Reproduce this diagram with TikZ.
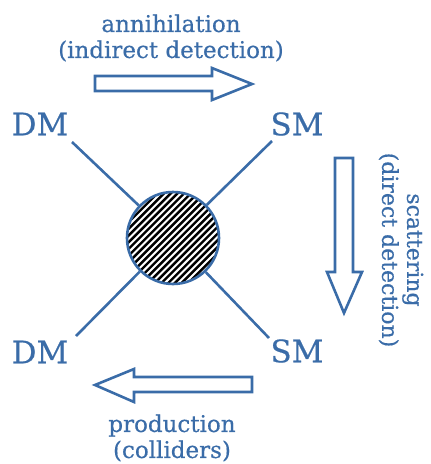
\documentclass[tikz,border=0pt]{standalone}
\usepackage{fontspec}
\setmainfont[FakeBold=0.5]{DejaVu Serif}
\definecolor{dmblue}{RGB}{58,108,168}
\begin{document}
\begin{tikzpicture}[x=1pt, y=-1pt,
    particle/.style={text=dmblue, inner sep=0pt, font=\fontsize{31}{34}\selectfont},
    process/.style={text=dmblue, align=center, inner sep=0pt, font=\fontsize{23}{26}\selectfont},
    leg/.style={draw=dmblue, line width=2.6pt},
    blockarrow/.style={draw=dmblue, line width=2.6pt, line join=miter}]
\useasboundingbox (0,0) rectangle (431,464);

\coordinate (vertex) at (173,238);
\begin{scope}
\clip (vertex) circle (46);
\foreach \k in {-20,...,20}
{
    \draw[line width=2.4pt] (173+\k*6.7-70,308) -- ++(140,-140);
}
\end{scope}
\node[circle, draw=dmblue, line width=2.6pt, minimum size=92pt, inner sep=0pt] (blob) at (vertex) {};

\foreach \n/\x/\y in {tl/72/142, tr/272/141, bl/76/336, br/269/338}
{
    \coordinate (\n) at (\x,\y);
    \draw[leg] (\n) -- (blob);
}

\node[particle] (dmtop) at (40,124) {DM};
\node[particle] (smtop) at (297,124) {SM};
\node[particle] (dmbot) at (40,352) {DM};
\node[particle] (smbot) at (297,351) {SM};

\node[process] (annih) at (171,38) {annihilation\\(indirect detection)};
\node[process] (prod) at (172,438) {production\\(colliders)};
\node[process, rotate=-90, font=\fontsize{22}{25}\selectfont] (scat) at (401,250) {scattering\\(direct detection)};

\draw[blockarrow] (95,76) -- (212,76) -- (212,68) -- (252,84) -- (212,100) -- (212,91) -- (95,91) -- cycle;
\draw[blockarrow] (252,377) -- (134,377) -- (134,369) -- (95,385) -- (134,402) -- (134,392) -- (252,392) -- cycle;
\draw[blockarrow] (335,158) -- (353,158) -- (353,272) -- (362,272) -- (344,313) -- (327,272) -- (335,272) -- cycle;
\end{tikzpicture}
\end{document}
